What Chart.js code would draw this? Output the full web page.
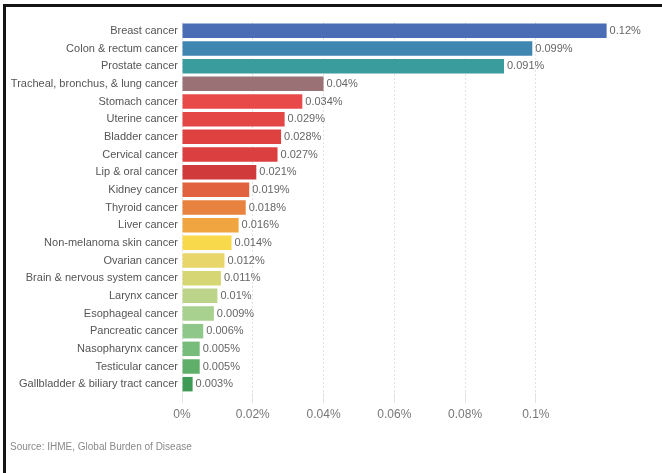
<!DOCTYPE html>
<html>
<head>
<meta charset="utf-8">
<title>Cancer deaths by type</title>
<script src="https://cdn.jsdelivr.net/npm/chart.js@4.4.1/dist/chart.umd.min.js"></script>
<style>
  html, body { margin: 0; padding: 0; background: #fff; }
  #wrap { position: relative; width: 662px; height: 473px; overflow: hidden; }
  #frame {
    position: absolute; left: 3px; top: 4px; right: 0; bottom: 0;
    border-left: 3px solid #151515; border-top: 3px solid #151515;
    pointer-events: none;
  }
  #source {
    position: absolute; left: 10px; top: 441px;
    font: 10px "Liberation Sans", Arial, sans-serif; color: #8a8a8a;
  }
  canvas { position: absolute; left: 0; top: 0; }
</style>
</head>
<body>
<div id="wrap">
  <canvas id="cancerChart" width="662" height="473"></canvas>
  <div id="frame"></div>
  <div id="source">Source: IHME, Global Burden of Disease</div>
</div>
<script>
// share of deaths, in percent
const cancerTypes = [
  'Breast cancer', 'Colon & rectum cancer', 'Prostate cancer',
  'Tracheal, bronchus, & lung cancer', 'Stomach cancer', 'Uterine cancer',
  'Bladder cancer', 'Cervical cancer', 'Lip & oral cancer', 'Kidney cancer',
  'Thyroid cancer', 'Liver cancer', 'Non-melanoma skin cancer', 'Ovarian cancer',
  'Brain & nervous system cancer', 'Larynx cancer', 'Esophageal cancer',
  'Pancreatic cancer', 'Nasopharynx cancer', 'Testicular cancer',
  'Gallbladder & biliary tract cancer'
];
const deathShare = [
  0.12, 0.099, 0.091, 0.04, 0.034, 0.029, 0.028, 0.027, 0.021, 0.019,
  0.018, 0.016, 0.014, 0.012, 0.011, 0.01, 0.009, 0.006, 0.005, 0.005, 0.003
];
const barColors = [
  '#4a6db5', '#3f86b0', '#3a9c9c', '#9a7276', '#e84a4a', '#e44545',
  '#df4141', '#db3f3f', '#d03a3a', '#e0623f', '#e8823f', '#f0a540',
  '#f9d94c', '#e9d66a', '#d7d674', '#bcd48a', '#a8d08e', '#8fc689',
  '#77bc7a', '#5faf6a', '#3e9a55'
];
const xTicks = [0, 0.02, 0.04, 0.06, 0.08, 0.1];

const fontFamily = '"Liberation Sans", Arial, sans-serif';

// value text at the end of each bar
const valueLabels = {
  id: 'valueLabels',
  afterDatasetsDraw(chart) {
    const ctx = chart.ctx;
    const meta = chart.getDatasetMeta(0);
    ctx.save();
    ctx.font = '11px ' + fontFamily;
    ctx.fillStyle = '#666';
    ctx.textAlign = 'left';
    ctx.textBaseline = 'middle';
    meta.data.forEach((bar, i) => {
      ctx.fillText(deathShare[i] + '%', bar.x + 3, bar.y);
    });
    ctx.restore();
  }
};

new Chart(document.getElementById('cancerChart'), {
  type: 'bar',
  data: {
    labels: cancerTypes,
    datasets: [{
      data: deathShare,
      backgroundColor: barColors,
      barPercentage: 0.82,
      categoryPercentage: 1
    }]
  },
  options: {
    indexAxis: 'y',
    responsive: false,
    animation: false,
    layout: { padding: { left: 0, right: 20, top: 22, bottom: 30 } },
    plugins: {
      legend: { display: false },
      tooltip: { enabled: false }
    },
    scales: {
      x: {
        min: 0,
        max: 0.13,
        afterFit(scale) { scale.height = 50; },
        afterBuildTicks(scale) {
          scale.ticks = xTicks.map(v => ({ value: v }));
        },
        grid: {
          color: '#e2e2e2',
          tickLength: 10,
          drawTicks: true
        },
        border: { display: false, dash: [2, 2] },
        ticks: {
          padding: 4,
          color: '#777',
          font: { size: 12, family: fontFamily },
          callback: v => +v.toFixed(2) + '%'
        }
      },
      y: {
        afterFit(scale) { scale.width = 182; },
        grid: { display: false, drawTicks: false, tickLength: 0 },
        border: { display: false },
        ticks: {
          padding: 4,
          color: '#555',
          font: { size: 11, family: fontFamily }
        }
      }
    }
  },
  plugins: [valueLabels]
});
</script>
</body>
</html>
